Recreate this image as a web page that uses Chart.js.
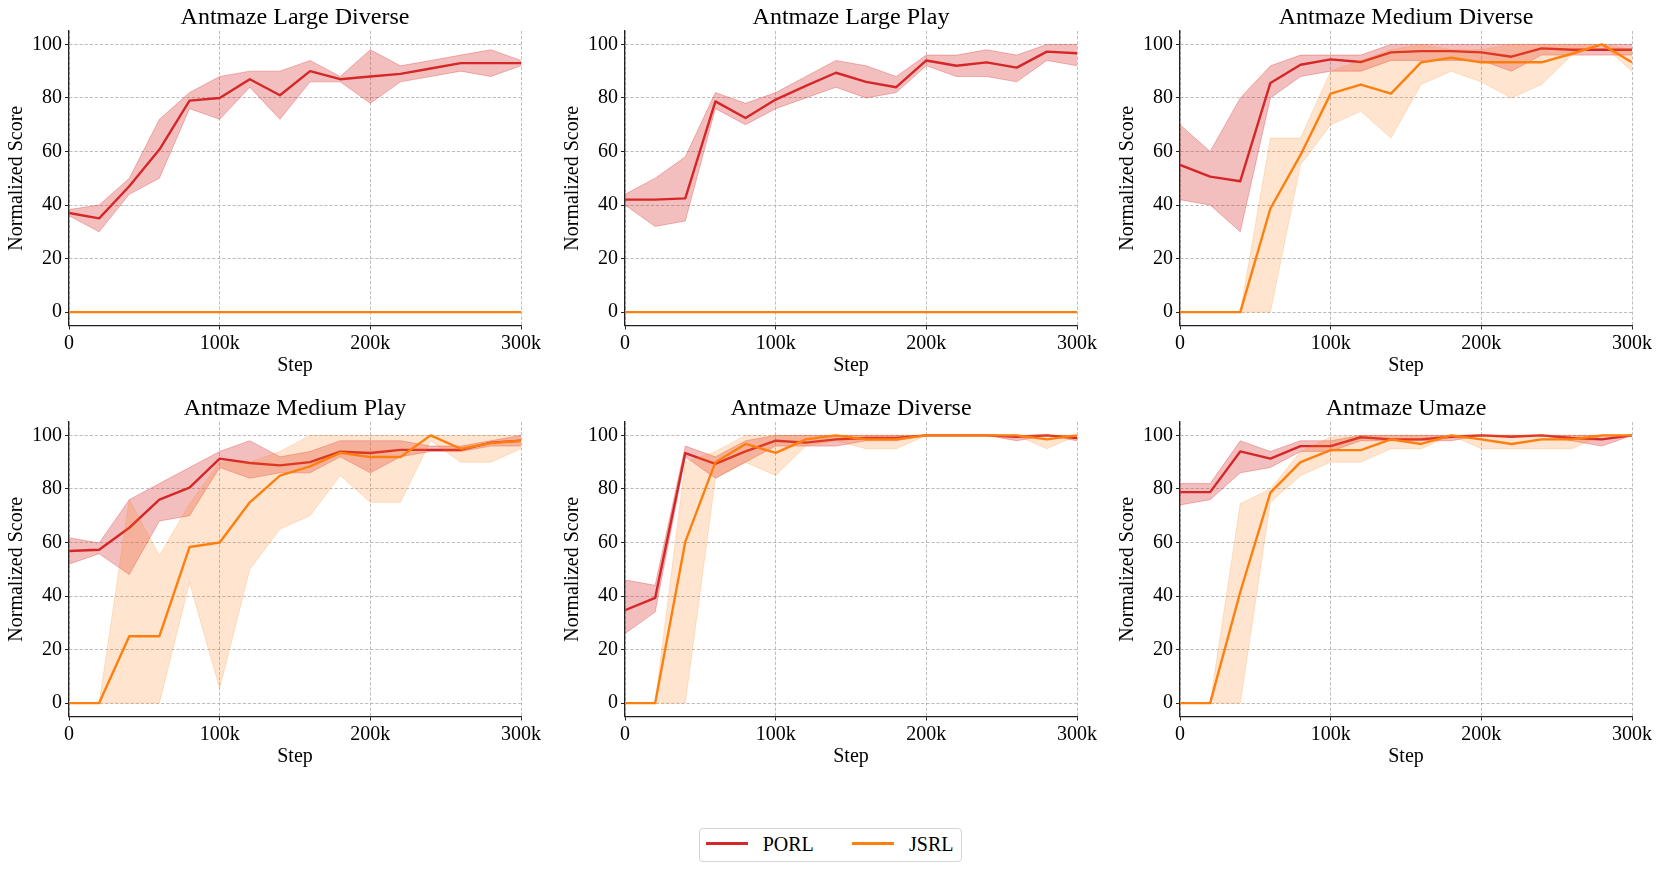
<!DOCTYPE html>
<html>
<head>
<meta charset="utf-8">
<script src="https://cdn.jsdelivr.net/npm/chart.js@4.4.0/dist/chart.umd.min.js"></script>
<style>
html,body{margin:0;padding:0;background:#fff;width:1661px;height:871px;overflow:hidden;}
.wrap{position:absolute;width:546px;height:379px;}
.legbox{position:absolute;left:699px;top:828px;width:261px;height:32px;border:1px solid #d4d4d4;border-radius:4px;background:#fff;}
.legline{position:absolute;height:2.4px;width:42px;top:842.2px;}
.legtxt{position:absolute;top:832px;font-family:'Liberation Serif';font-size:20px;line-height:24px;color:#000;}
</style>
</head>
<body>
<script>
// ---- data ----
const steps = [0, 20000, 40000, 60000, 80000, 100000, 120000, 140000, 160000, 180000, 200000, 220000, 240000, 260000, 280000, 300000];
const xTickValues = [0, 100000, 200000, 300000];
const xTickLabels = ['0', '100k', '200k', '300k'];
const yTickValues = [0, 20, 40, 60, 80, 100];
const taskTitles = ['Antmaze Large Diverse', 'Antmaze Large Play', 'Antmaze Medium Diverse', 'Antmaze Medium Play', 'Antmaze Umaze Diverse', 'Antmaze Umaze'];
const seriesNames = ['PORL', 'JSRL'];

// Antmaze Large Diverse
const largeDiversePorl   = [37, 35, 47, 60.7, 79, 80, 87, 81, 90, 87, 88, 89, 91, 93, 93, 93];
const largeDiversePorlHi = [38.3, 40, 50, 72, 82, 88, 90, 90, 94, 88, 98, 92, 94, 96, 98, 94];
const largeDiversePorlLo = [36, 30, 44, 50, 76, 72, 84, 72, 86, 86, 78, 86, 88, 90, 88, 92];
const largeDiverseJsrl   = [0, 0, 0, 0, 0, 0, 0, 0, 0, 0, 0, 0, 0, 0, 0, 0];
const largeDiverseJsrlHi = [0, 0, 0, 0, 0, 0, 0, 0, 0, 0, 0, 0, 0, 0, 0, 0];
const largeDiverseJsrlLo = [0, 0, 0, 0, 0, 0, 0, 0, 0, 0, 0, 0, 0, 0, 0, 0];

// Antmaze Large Play
const largePlayPorl   = [42, 42, 42.5, 78.7, 72.5, 79.4, 84.5, 89.4, 86, 84, 94, 92, 93.3, 91.3, 97.3, 96.7];
const largePlayPorlHi = [44, 50, 58, 82, 78, 82, 88, 94, 92, 88, 96, 96, 98, 96, 100, 100];
const largePlayPorlLo = [40, 32, 34, 76, 70, 76, 80, 84, 80, 82, 92, 88, 88, 86, 94, 92];
const largePlayJsrl   = [0, 0, 0, 0, 0, 0, 0, 0, 0, 0, 0, 0, 0, 0, 0, 0];
const largePlayJsrlHi = [0, 0, 0, 0, 0, 0, 0, 0, 0, 0, 0, 0, 0, 0, 0, 0];
const largePlayJsrlLo = [0, 0, 0, 0, 0, 0, 0, 0, 0, 0, 0, 0, 0, 0, 0, 0];

// Antmaze Medium Diverse
const mediumDiversePorl   = [55, 50.6, 48.9, 85.6, 92.4, 94.4, 93.4, 97, 97.5, 97.5, 97, 95.4, 98.5, 98, 98, 98];
const mediumDiversePorlHi = [70, 60, 80, 92, 96, 96, 96, 100, 100, 100, 100, 100, 100, 100, 100, 100];
const mediumDiversePorlLo = [42, 40, 30, 80, 88, 90, 90, 94, 94, 94, 94, 90, 96, 96, 96, 96];
const mediumDiverseJsrl   = [0, 0, 0, 38.7, 58.7, 81.6, 85, 81.6, 93.3, 95, 93.3, 93.3, 93.3, 96.5, 100, 93.3];
const mediumDiverseJsrlHi = [0, 0, 0, 65, 65, 90, 94, 98, 100, 98, 98, 100, 100, 100, 100, 98];
const mediumDiverseJsrlLo = [0, 0, 0, 0, 55, 70, 75, 65, 85, 90, 86, 80, 85, 96, 100, 90];

// Antmaze Medium Play
const mediumPlayPorl   = [56.8, 57.3, 65.5, 76, 80.5, 91.3, 89.7, 88.8, 90, 93.9, 93.4, 94.6, 94.6, 94.6, 97.3, 98];
const mediumPlayPorlHi = [61.8, 59.8, 76, 82, 88, 94, 98, 92, 94, 98, 98, 98, 96, 96, 98, 100];
const mediumPlayPorlLo = [51.9, 55.8, 48, 68, 70, 88, 84, 86, 86, 92, 86, 92, 94, 94, 96, 96];
const mediumPlayJsrl   = [0, 0, 25, 25, 58.3, 60, 75, 85, 88.4, 93.5, 91.9, 91.9, 100, 95, 97.1, 98];
const mediumPlayJsrlHi = [0, 0, 76, 55, 74.5, 90, 90, 94, 100, 100, 100, 100, 100, 100, 100, 100];
const mediumPlayJsrlLo = [0, 0, 0, 0, 45, 5.5, 50, 65, 70, 85, 75, 75, 98, 90, 90, 95];

// Antmaze Umaze Diverse
const umazeDiversePorl   = [34.7, 39.3, 93.4, 89.4, 94, 98, 97.3, 98.5, 99, 99, 100, 100, 100, 99.5, 100, 99];
const umazeDiversePorlHi = [46, 44, 96, 92, 98, 100, 100, 100, 100, 100, 100, 100, 100, 100, 100, 100];
const umazeDiversePorlLo = [26, 34, 92, 84, 90, 96, 96, 96, 98, 98, 100, 100, 100, 98, 100, 98];
const umazeDiverseJsrl   = [0, 0, 60.2, 90, 96.8, 93.5, 98.5, 100, 98.5, 98.5, 100, 100, 100, 100, 98.5, 100];
const umazeDiverseJsrlHi = [0, 0, 90, 94, 100, 100, 100, 100, 100, 100, 100, 100, 100, 100, 100, 100];
const umazeDiverseJsrlLo = [0, 0, 0, 84, 90, 85, 96, 98, 95, 95, 100, 100, 100, 100, 95, 100];

// Antmaze Umaze
const umazePorl   = [78.8, 78.8, 94, 91.3, 96, 96, 99.3, 98.5, 98.5, 99.5, 100, 99.5, 100, 99, 98.5, 100];
const umazePorlHi = [82, 82, 98, 94, 98, 98, 100, 100, 100, 100, 100, 100, 100, 100, 100, 100];
const umazePorlLo = [74, 76, 86, 88, 94, 94, 98, 98, 98, 98, 100, 100, 100, 98, 96, 100];
const umazeJsrl   = [0, 0, 41.5, 78.6, 90, 94.5, 94.5, 98.5, 96.8, 100, 98.5, 96.8, 98.5, 98.5, 100, 100];
const umazeJsrlHi = [0, 0, 74.5, 80, 94, 99.4, 100, 100, 100, 100, 100, 100, 100, 100, 100, 100];
const umazeJsrlLo = [0, 0, 0, 75, 85, 90, 90, 95, 95, 100, 95, 95, 95, 95, 100, 100];

// ---- drawing ----
const FONT = 'Liberation Serif';
const RED = '#d62728', RED_BAND = 'rgba(214,39,40,0.30)';
const ORANGE = '#ff7f0e', ORANGE_BAND = 'rgba(255,127,14,0.20)';
const GRID = 'rgba(170,170,170,0.85)';
const colLeft = [69.3, 624.7, 1180.3];
const rowTop = [31.3, 421.6];
const Y_AXIS_W = 69, TITLE_H = 32;

Chart.defaults.font.family = FONT;
Chart.defaults.color = '#000';

const pts = arr => steps.map((s, i) => ({x: s, y: arr[i]}));

function makeChart(idx, porl, porlHi, porlLo, jsrl, jsrlHi, jsrlLo) {
  const col = idx % 3, row = Math.floor(idx / 3);
  const wrap = document.createElement('div');
  wrap.className = 'wrap';
  wrap.style.left = (colLeft[col] - Y_AXIS_W) + 'px';
  wrap.style.top = (rowTop[row] - TITLE_H) + 'px';
  const cv = document.createElement('canvas');
  wrap.appendChild(cv);
  document.body.appendChild(wrap);

  const band = (data, color, fill, order) => ({
    data: pts(data), borderColor: color, backgroundColor: color, borderWidth: 1,
    pointRadius: 0, fill: fill, order: order, tension: 0
  });
  const line = (label, data, color, order) => ({
    label: label, data: pts(data), borderColor: color, backgroundColor: color, borderWidth: 2.4,
    pointRadius: 0, fill: false, order: order, tension: 0, borderJoinStyle: 'round'
  });

  new Chart(cv, {
    type: 'line',
    data: {
      datasets: [
        band(porlHi, RED_BAND, false, 4),
        band(porlLo, RED_BAND, '-1', 4),
        line(seriesNames[0], porl, RED, 3),
        band(jsrlHi, ORANGE_BAND, false, 2),
        band(jsrlLo, ORANGE_BAND, '-1', 2),
        line(seriesNames[1], jsrl, ORANGE, 1)
      ]
    },
    options: {
      responsive: true, maintainAspectRatio: false, animation: false,
      layout: {padding: {left: 0, right: 25, top: 0, bottom: 0}},
      plugins: {
        legend: {display: false},
        tooltip: {enabled: false},
        title: {display: true, text: taskTitles[idx], fullSize: false, color: '#000',
          font: {family: FONT, size: 24, weight: 'normal', lineHeight: 27 / 24},
          padding: {top: 5, bottom: 0}}
      },
      scales: {
        x: {
          type: 'linear', min: 0, max: 300000,
          afterBuildTicks: s => { s.ticks = xTickValues.map(v => ({value: v})); },
          afterFit: s => { s.height = 52.5; },
          ticks: {callback: v => xTickLabels[xTickValues.indexOf(v)], font: {family: FONT, size: 20}, color: '#000',
            padding: 2, maxRotation: 0, autoSkip: false},
          grid: {color: GRID, lineWidth: 0.9, drawTicks: true, tickLength: 4, tickColor: '#222', tickWidth: 1},
          border: {display: true, color: '#222', width: 1.3, dash: [3.3, 1.8]},
          title: {display: true, text: 'Step', color: '#000', font: {family: FONT, size: 20, lineHeight: 1.2}, padding: {top: 0, bottom: 0}}
        },
        y: {
          min: -5, max: 105,
          afterBuildTicks: s => { s.ticks = yTickValues.map(v => ({value: v})); },
          afterFit: s => { s.width = Y_AXIS_W; },
          ticks: {callback: v => String(v), font: {family: FONT, size: 20}, color: '#000', padding: 3},
          grid: {color: GRID, lineWidth: 0.9, drawTicks: true, tickLength: 4, tickColor: '#222', tickWidth: 1},
          border: {display: true, color: '#222', width: 1.3, dash: [3.3, 1.8]},
          title: {display: true, text: 'Normalized Score', color: '#000', font: {family: FONT, size: 20, lineHeight: 1.2}, padding: {top: 5, bottom: 0}}
        }
      }
    }
  });
}

makeChart(0, largeDiversePorl, largeDiversePorlHi, largeDiversePorlLo, largeDiverseJsrl, largeDiverseJsrlHi, largeDiverseJsrlLo);
makeChart(1, largePlayPorl, largePlayPorlHi, largePlayPorlLo, largePlayJsrl, largePlayJsrlHi, largePlayJsrlLo);
makeChart(2, mediumDiversePorl, mediumDiversePorlHi, mediumDiversePorlLo, mediumDiverseJsrl, mediumDiverseJsrlHi, mediumDiverseJsrlLo);
makeChart(3, mediumPlayPorl, mediumPlayPorlHi, mediumPlayPorlLo, mediumPlayJsrl, mediumPlayJsrlHi, mediumPlayJsrlLo);
makeChart(4, umazeDiversePorl, umazeDiversePorlHi, umazeDiversePorlLo, umazeDiverseJsrl, umazeDiverseJsrlHi, umazeDiverseJsrlLo);
makeChart(5, umazePorl, umazePorlHi, umazePorlLo, umazeJsrl, umazeJsrlHi, umazeJsrlLo);

// legend
(function () {
  const box = document.createElement('div'); box.className = 'legbox'; document.body.appendChild(box);
  const items = [[RED, 705.7, 762.7], [ORANGE, 852.3, 909]];
  items.forEach((it, i) => {
    const ln = document.createElement('div'); ln.className = 'legline';
    ln.style.left = it[1] + 'px'; ln.style.background = it[0]; document.body.appendChild(ln);
    const tx = document.createElement('div'); tx.className = 'legtxt';
    tx.style.left = it[2] + 'px'; tx.textContent = seriesNames[i]; document.body.appendChild(tx);
  });
})();
</script>
</body>
</html>
